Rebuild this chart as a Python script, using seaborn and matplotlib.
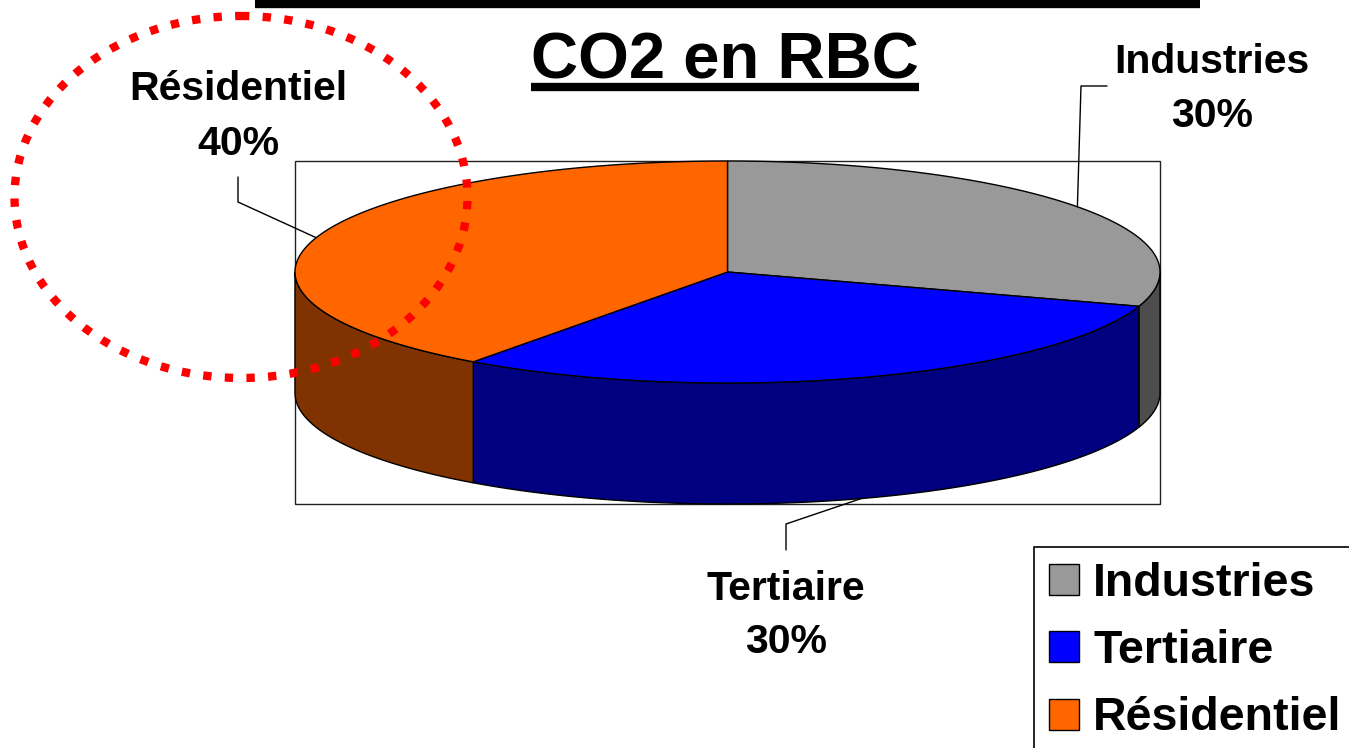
import numpy as np
import matplotlib
matplotlib.use("Agg")
import matplotlib.pyplot as plt
from matplotlib.patches import Polygon, Rectangle, Ellipse, Patch
import seaborn as sns

# data
categories = ["Industries", "Tertiaire", "Résidentiel"]
shares = [30, 30, 40]
pct_labels = ["30%", "30%", "40%"]
top_colors = ["#999999", "#0000ff", "#ff6600"]
side_colors = ["#4d4d4d", "#000080", "#803300"]

sns.set_theme(style="white")
plt.rcParams['font.family'] = ['Liberation Sans', 'DejaVu Sans']
plt.rcParams['font.weight'] = 'bold'
plt.rcParams['text.color'] = 'black'

W, H = 1349, 748
fig = plt.figure(figsize=(W / 100, H / 100), dpi=100)
ax = fig.add_axes([0, 0, 1, 1])
ax.set_xlim(0, W)
ax.set_ylim(H, 0)
ax.axis('off')

# pie geometry (pixel space)
cx, cy = 727.5, 272
a, b = 432.5, 111
depth = 121


def arc(t1, t2, dy=0, n=120):
    t = np.radians(np.linspace(t1, t2, n))
    return np.column_stack([cx + a * np.cos(t), cy - b * np.sin(t) + dy])


# plot area frame
ax.add_patch(Rectangle((295, 161), 865, 343, fill=False, edgecolor='#222222', lw=1.0, zorder=1))

total = sum(shares)
cum = np.concatenate([[0], np.cumsum(shares)])
starts = 90 - 360 * cum[:-1] / total
ends = 90 - 360 * cum[1:] / total

# side faces (front half only)
for i in range(len(shares)):
    for shift in (0, -360, 360):
        lo = max(ends[i] + shift, -180)
        hi = min(starts[i] + shift, 0)
        if hi > lo:
            top = arc(hi, lo)
            bot = arc(lo, hi, dy=depth)
            ax.add_patch(Polygon(np.vstack([top, bot]), closed=True, facecolor=side_colors[i],
                                 edgecolor='black', lw=1.0, zorder=2))

# top faces
for i in range(len(shares)):
    pts = np.vstack([[cx, cy], arc(starts[i], ends[i])])
    ax.add_patch(Polygon(pts, closed=True, facecolor=top_colors[i], edgecolor='black', lw=1.0, zorder=3))

# labels with leader lines
label_pos = [(1212, 73, 127), (786, 600, 653), (238, 100, 155)]
elbows = [[(1107, 86), (1081, 86)], [(786, 550), (786, 524)], [(238, 177), (238, 202)]]
for i in range(len(shares)):
    mid = np.radians((starts[i] + ends[i]) / 2)
    px = cx + a * np.cos(mid)
    py = cy - b * np.sin(mid)
    if np.sin(mid) < 0:
        py += depth
    xs = [p[0] for p in elbows[i]] + [px]
    ys = [p[1] for p in elbows[i]] + [py]
    ax.plot(xs, ys, color='black', lw=1.0, zorder=4)
    lx, y1, y2 = label_pos[i]
    ax.text(lx, y1, categories[i], ha='center', va='baseline', fontsize=29.5, fontweight='bold',
            color='black', zorder=5)
    ax.text(lx, y2, pct_labels[i], ha='center', va='baseline', fontsize=29.5, fontweight='bold',
            color='black', zorder=5)

# red dotted highlight
ax.add_patch(Ellipse((241, 197), 453, 362, fill=False, edgecolor='#ff0000', lw=6,
                     linestyle=(0, (1.0, 1.6)), capstyle='butt', zorder=6))

# top bar (cut-off underline of previous line)
ax.plot([255, 1200], [4, 4], color='black', lw=6, solid_capstyle='butt', zorder=5)

# title with underline
title = ax.text(725, 78, "CO2 en RBC", ha='center', va='baseline', fontsize=47, fontweight='bold',
                color='black', zorder=5)
fig.canvas.draw()
bb = title.get_window_extent(fig.canvas.get_renderer())
x0 = ax.transData.inverted().transform((bb.x0, 0))[0]
x1 = ax.transData.inverted().transform((bb.x1, 0))[0]
ax.plot([x0, x1], [87, 87], color='black', lw=6, solid_capstyle='butt', zorder=5)

# legend
handles = [Patch(facecolor=c, edgecolor='black', lw=1.0) for c in top_colors]
leg = fig.legend(handles, categories, loc='upper left', bbox_to_anchor=(1034 / W, 1 - 547 / H),
                 borderaxespad=0, prop={'weight': 'bold', 'size': 33.5},
                 handlelength=0.65, handleheight=0.65, handletextpad=0.3,
                 labelspacing=0.5, borderpad=0.32, fancybox=False, framealpha=1,
                 edgecolor='black')
leg.get_frame().set_linewidth(1.2)
for t in leg.get_texts():
    t.set_color('black')

fig.savefig("out.png", dpi=100)
